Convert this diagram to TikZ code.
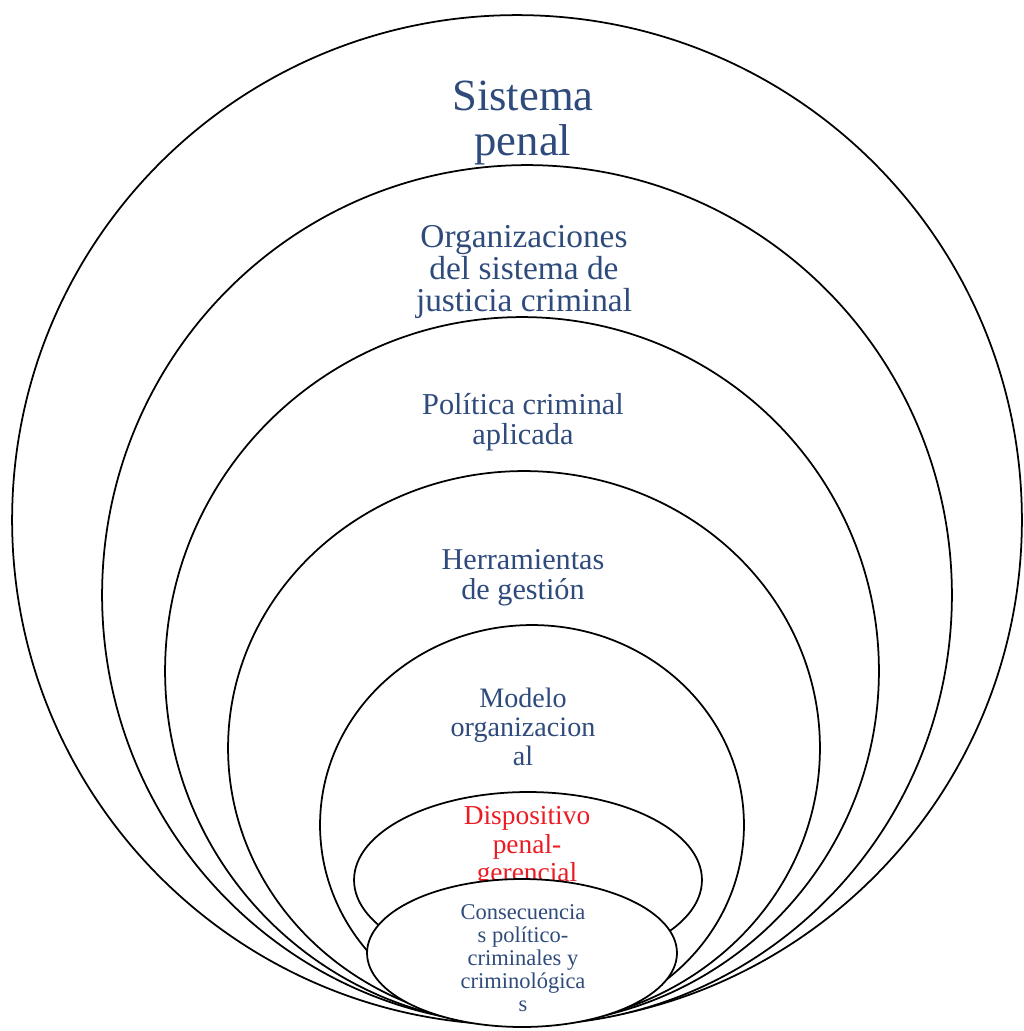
\documentclass[tikz,border=0pt]{standalone}
\usepackage{fontspec}
\setmainfont{Liberation Serif}
\usetikzlibrary{shapes.geometric}
\definecolor{labelblue}{HTML}{2F4B7C}
\definecolor{labelred}{HTML}{EC1C24}
\tikzset{
  ring/.style={ellipse, draw=black, fill=white, line width=1pt, inner sep=0pt},
  lbl/.style={align=center, inner sep=0pt, text=labelblue},
}
\newcommand{\fs}[2]{\fontsize{#1}{#2}\selectfont}
\begin{document}
\begin{tikzpicture}[x=0.02cm, y=-0.02cm]
  \useasboundingbox (0,0) rectangle (1024,1031);
  % nested levels, from the outermost inwards
  \node[ring, minimum width=20.2cm, minimum height=20.2cm] (sp) at (517,520) {};
  \node[lbl, font=\fs{25.4pt}{26pt}] (tsp) at (523,123) {Sistema\\penal};

  \node[ring, minimum width=17.0cm, minimum height=17.2cm] (org) at (527,595) {};
  \node[lbl, font=\fs{19pt}{18pt}] (torg) at (524,272) {Organizaciones\\del sistema de\\justicia criminal};

  \node[ring, minimum width=14.28cm, minimum height=14.16cm] (pol) at (522,671) {};
  \node[lbl, font=\fs{17.3pt}{17pt}] (tpol) at (523,422) {Política criminal\\aplicada};

  \node[ring, minimum width=11.84cm, minimum height=11.08cm] (her) at (524,748) {};
  \node[lbl, font=\fs{17.2pt}{17pt}] (ther) at (523,578) {Herramientas\\de gestión};

  \node[ring, minimum width=8.48cm, minimum height=8.0cm] (mod) at (532,825) {};
  \node[lbl, font=\fs{16pt}{16.4pt}] (tmod) at (523,727) {Modelo\\organizacion\\al};

  \node[ring, minimum width=6.96cm, minimum height=3.52cm] (dis) at (528,880) {};
  \node[lbl, text=labelred, font=\fs{15.6pt}{16.4pt}] (tdis) at (527,847) {Dispositivo\\penal-\\gerencial};

  % innermost level, laid over the lower part of the one above
  \node[ring, minimum width=6.2cm, minimum height=2.96cm] (con) at (522,953) {};
  \node[lbl, font=\fs{12.8pt}{13pt}] (tcon) at (523,958) {Consecuencia\\s político-\\criminales y\\criminológica\\s};
\end{tikzpicture}
\end{document}
